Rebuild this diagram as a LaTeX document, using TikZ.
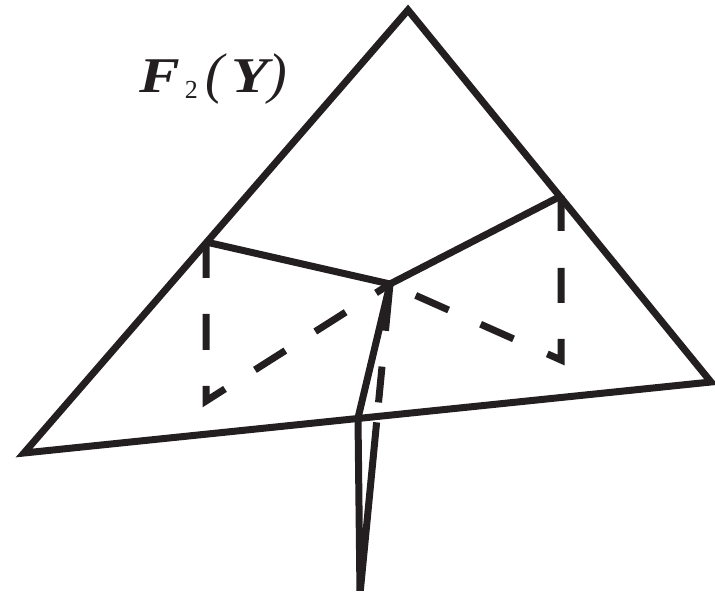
\documentclass[tikz,border=0pt]{standalone}
\usepackage{fontspec}
\setmainfont{Liberation Serif}
\definecolor{ink}{HTML}{231F20}
\newcommand{\sublab}[1]{\raisebox{-6pt}{\fontsize{26}{26}\selectfont\mdseries\upshape #1}}
\newcommand{\parlab}[1]{{\fontsize{56}{56}\selectfont\mdseries\itshape #1}}
\newcommand{\widelab}[1]{\scalebox{1.22}[1]{#1}}
\tikzset{solidline/.style={draw=ink,line width=7pt,line join=miter,miter limit=10},
dashline/.style={draw=ink,line width=7pt,line join=miter,miter limit=10},
lab/.style={text=ink,font=\bfseries\itshape\fontsize{50}{50}\selectfont,inner sep=0pt,anchor=base west}}
\begin{document}
\begin{tikzpicture}[x=1pt,y=-1pt]
\useasboundingbox (0,0) rectangle (715,593);
\coordinate (T) at (408,10);
\coordinate (L) at (24,453);
\coordinate (R) at (711,382);
\coordinate (A) at (206,242);
\coordinate (B) at (561,196);
\coordinate (C) at (390,284);
\coordinate (D) at (358,418);
\coordinate (E) at (360,594);
\coordinate (P) at (206,401);
\coordinate (Q) at (561,360);
\begin{scope}
\clip (0,0) rectangle (715,590.5);
\draw[solidline] (T) -- (L) -- (R) -- cycle;
\draw[solidline] (A) -- (C) -- (B);
\draw[solidline] (C) -- (D) -- (E);
\draw[dashline,dash pattern=on 36pt off 36pt on 36pt off 36pt on 37.5pt off 35.5pt on 36pt off 35.5pt on 36pt off 36pt on 40pt off 200pt] (A) -- (P) -- (C);
\draw[dashline,dash pattern=on 35pt off 37pt on 35pt off 36pt on 36pt off 37pt on 36pt off 35pt on 36pt off 200pt] (B) -- (Q) -- (C);
\draw[dashline,dash pattern=on 47pt off 36pt on 36pt off 20pt on 200pt] (C) -- (E);
\end{scope}
\node[lab] (t) at (139,93) {\widelab{F}\kern5pt\sublab{2}\kern8pt\parlab{(}\kern7pt\widelab{Y}\kern0pt\parlab{)}};
\end{tikzpicture}
\end{document}
